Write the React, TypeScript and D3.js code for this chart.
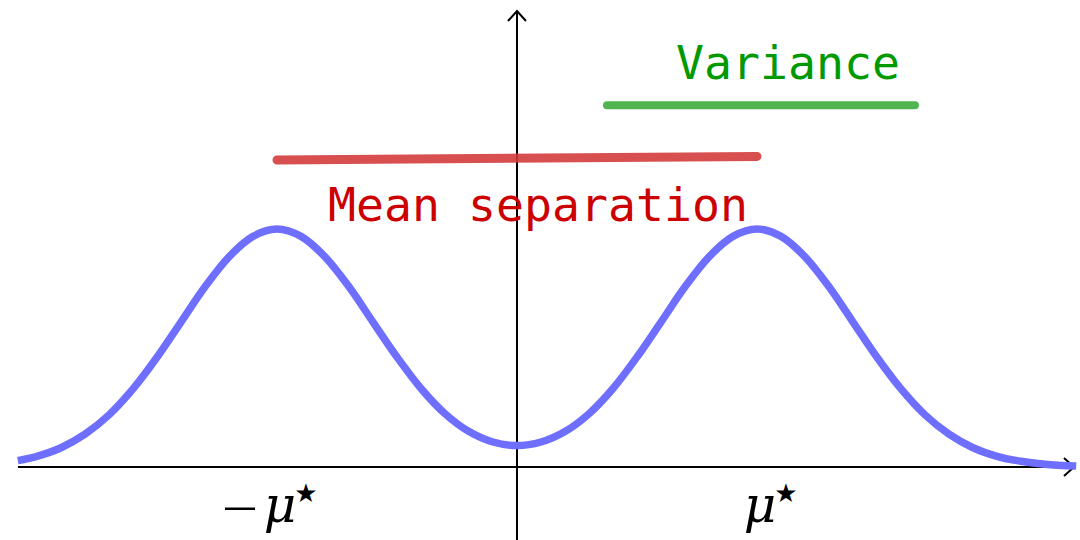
import React from "react";
import * as d3 from "d3";

// density curve (x in units of mu*, y relative to peak height)
const curveX = [-2.08, -2.0, -1.9, -1.8, -1.7, -1.6, -1.5, -1.4, -1.3, -1.2, -1.1, -1.0, -0.9, -0.8, -0.7, -0.6, -0.5, -0.4, -0.3, -0.2, -0.1, 0.0, 0.1, 0.2, 0.3, 0.4, 0.5, 0.6, 0.7, 0.8, 0.9, 1.0, 1.1, 1.2, 1.3, 1.4, 1.5, 1.6, 1.7, 1.8, 1.9, 2.0, 2.1, 2.2, 2.33];
const curveY = [0.027, 0.045, 0.081, 0.138, 0.219, 0.328, 0.461, 0.609, 0.757, 0.883, 0.969, 1.0, 0.969, 0.883, 0.757, 0.609, 0.462, 0.33, 0.224, 0.149, 0.105, 0.09, 0.105, 0.149, 0.224, 0.33, 0.462, 0.609, 0.757, 0.883, 0.969, 1.0, 0.969, 0.883, 0.757, 0.609, 0.461, 0.328, 0.219, 0.138, 0.081, 0.045, 0.024, 0.012, 0.004];

// annotation bars
const meanBarX = [-1.0, 1.0];
const meanBarY = [1.29, 1.305];
const varBarX = [0.375, 1.658];
const varBarY = [1.52, 1.52];

const tickValues = [-1, 1];
const tickNegative = [true, false];

export default function App() {
  const W = 1080, H = 540;
  const x = d3.scaleLinear().domain([0, 1]).range([517, 757]);
  const y = d3.scaleLinear().domain([0, 1]).range([467, 229]);
  const pts: [number, number][] = curveX.map((v, i) => [v, curveY[i]]);
  const line = d3.line<[number, number]>().x(d => x(d[0])).y(d => y(d[1])).curve(d3.curveCatmullRom);
  const x0 = x(0), y0 = y(0);
  const mono = "'DejaVu Sans Mono', monospace";
  return (
    <svg width={W} height={H} style={{ position: "absolute", left: 0, top: 0, background: "#fff" }}>
      {/* axes */}
      <line x1={18} y1={y0} x2={1074} y2={y0} stroke="#000" strokeWidth={2} />
      <polyline points={`${1064},${y0 - 9} ${1074},${y0} ${1064},${y0 + 9}`} fill="none" stroke="#000" strokeWidth={2} />
      <line x1={x0} y1={540} x2={x0} y2={11} stroke="#000" strokeWidth={2} />
      <polyline points={`${x0 - 9},${21} ${x0},${11} ${x0 + 9},${21}`} fill="none" stroke="#000" strokeWidth={2} />
      {/* curve */}
      <path d={line(pts) || ""} fill="none" stroke="rgb(110,110,255)" strokeWidth={7.5} strokeLinecap="butt" />
      {/* mean separation bar */}
      <line x1={x(meanBarX[0])} y1={y(meanBarY[0])} x2={x(meanBarX[1])} y2={y(meanBarY[1])} stroke="rgba(210,55,55,0.88)" strokeWidth={9} strokeLinecap="round" />
      <text x={538} y={221} fontFamily={mono} fontSize={46.5} fill="#cc0000" textAnchor="middle">Mean separation</text>
      {/* variance bar */}
      <line x1={x(varBarX[0])} y1={y(varBarY[0])} x2={x(varBarX[1])} y2={y(varBarY[1])} stroke="rgb(80,180,80)" strokeWidth={8} strokeLinecap="round" />
      <text x={788} y={79} fontFamily={mono} fontSize={46.5} fill="#009900" textAnchor="middle">Variance</text>
      {/* tick labels */}
      {tickValues.map((v, i) => {
        const cx = x(v);
        return (
          <g key={i} fill="#000">
            {tickNegative[i] && (
              <rect x={cx - 52} y={507.5} width={30} height={2.5} />
            )}
            <text x={cx + 3} y={522} fontFamily="'DejaVu Serif', serif" fontStyle="italic" fontSize={50} textAnchor="middle">μ</text>
            <text x={cx + 29} y={502} fontFamily="'DejaVu Sans', sans-serif" fontSize={26} textAnchor="middle">★</text>
          </g>
        );
      })}
    </svg>
  );
}
